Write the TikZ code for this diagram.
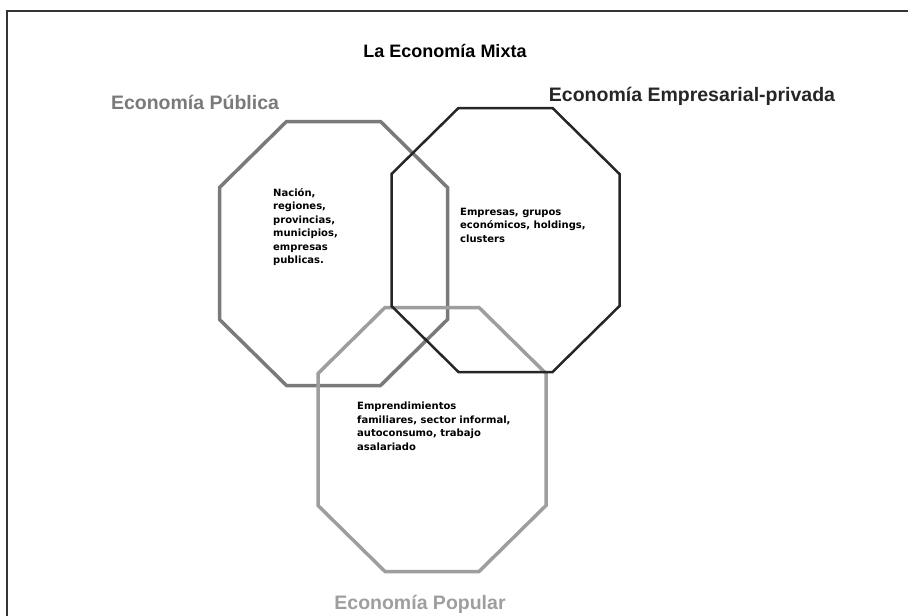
\documentclass[tikz,border=0pt]{standalone}
\usepackage{fontspec}
\setmainfont{Liberation Sans}
\newfontfamily\cajafont{DejaVu Sans}

\definecolor{marco}{HTML}{333333}
\definecolor{publica}{HTML}{7A7A7A}
\definecolor{privada}{HTML}{262626}
\definecolor{popular}{HTML}{9E9E9E}

\begin{document}
\begin{tikzpicture}[x=1pt, y=-1pt,
    every node/.style={inner sep=0pt, font=\bfseries},
    octa/.style={line join=miter},
    label/.style={font=\bfseries\fontsize{19.5}{22}\selectfont},
    cajatexto/.style={font=\cajafont\bfseries\fontsize{10}{13.5}\selectfont, align=left, anchor=north west}]
    \useasboundingbox (0,0) rectangle (908,616);
    \draw[line width=1.5pt, marco] (7,616) -- (7,11) -- (908,11);
    % octagonos
    \foreach \nombre/\cx/\cy/\col/\lw in {pub/333.5/253.5/publica/3.5pt,
                                          pop/432/439.5/popular/3.5pt,
                                          priv/505.5/240/privada/2.5pt} {
        \coordinate (\nombre) at (\cx,\cy);
        \draw[octa, draw=\col, line width=\lw, shift={(\cx,\cy)}]
            (-47,-132) -- (47,-132) -- (114,-66) -- (114,66) -- (47,132)
            -- (-47,132) -- (-114,66) -- (-114,-66) -- cycle;
    }
    % textos
    \node[font=\bfseries\fontsize{18}{20}\selectfont] (titulo) at (445,51) {La Economía Mixta};
    \node[label, text=publica] (lblpub) at (195,102) {Economía Pública};
    \node[label, text=privada] (lblpriv) at (692,96) {Economía Empresarial-privada};
    \node[label, text=popular] (lblpop) at (420,604) {Economía Popular};
    \node[cajatexto] (txtpub) at (273,188) {Nación,\\regiones,\\provincias,\\municipios,\\empresas\\publicas.};
    \node[cajatexto] (txtpriv) at (460,208) {Empresas, grupos\\económicos, holdings,\\clusters};
    \node[cajatexto] (txtpop) at (357,402) {Emprendimientos\\familiares, sector informal,\\autoconsumo, trabajo\\asalariado};
\end{tikzpicture}
\end{document}
